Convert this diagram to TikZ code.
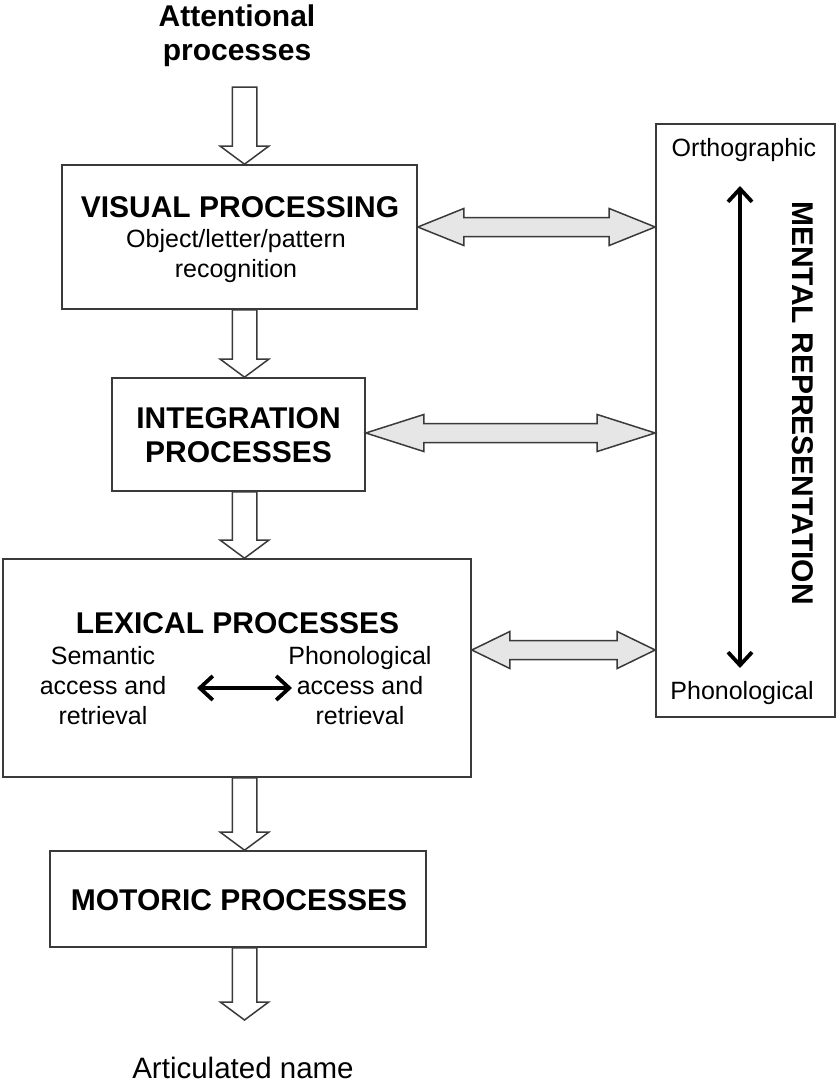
\documentclass[tikz,border=0pt]{standalone}
\usepackage{fontspec}
\setmainfont{Liberation Sans}
\usetikzlibrary{arrows.meta,calc}
\definecolor{edge}{HTML}{3A3A3A}
\definecolor{graybody}{HTML}{E6E6E6}
\tikzset{
  box/.style={draw=edge, line width=1.6pt, fill=white, rectangle, inner sep=0pt},
  head/.style={font=\fontsize{30}{34.5}\selectfont\bfseries, align=center, inner sep=0pt},
  body/.style={font=\fontsize{25}{30}\selectfont, align=center, inner sep=0pt},
  blockarr/.style={draw=edge, line width=1.5pt, fill=white, line join=miter},
  grayarr/.style={draw=edge, line width=1.5pt, fill=graybody, line join=miter},
  blackarr/.style={line width=3.8pt, black, {Straight Barb[length=13pt,width=24pt,line width=3.8pt]}-{Straight Barb[length=13pt,width=24pt,line width=3.8pt]}}
}
\newcommand{\blockdn}[2]{%
  \draw[blockarr] let \p1=(#1), \p2=(#2) in
    (\x1-12.25pt,\y1) -- (\x1-12.25pt,\y2+18pt) -- (\x1-24.25pt,\y2+18pt) --
    (\x1,\y2) -- (\x1+24.25pt,\y2+18pt) -- (\x1+12.25pt,\y2+18pt) --
    (\x1+12.25pt,\y1) -- cycle;}
\newcommand{\blockdbl}[3]{%
  \draw[grayarr] let \p1=(#1), \p2=(#2) in
    (\x1,\y1) -- (\x1+#3,\y1+18.5pt) -- (\x1+#3,\y1+9.5pt) --
    (\x2-#3,\y1+9.5pt) -- (\x2-#3,\y1+18.5pt) -- (\x2,\y1) --
    (\x2-#3,\y1-18.5pt) -- (\x2-#3,\y1-9.5pt) -- (\x1+#3,\y1-9.5pt) --
    (\x1+#3,\y1-18.5pt) -- cycle;}
\begin{document}
\begin{tikzpicture}[x=1pt,y=-1pt]
\useasboundingbox (0,0) rectangle (837,1084);
\fill[white] (0,0) rectangle (837,1084);

% boxes
\node[box, minimum width=355, minimum height=144] (vis) at (239.5,237) {};
\node[box, minimum width=253, minimum height=113] (int) at (238.5,434.5) {};
\node[box, minimum width=468, minimum height=218] (lex) at (237,668) {};
\node[box, minimum width=376, minimum height=96] (mot) at (238,899) {};
\node[box, minimum width=179, minimum height=593] (ment) at (745.5,420.5) {};

% texts
\node[head] (att) at (237,35.5) {Attentional\\processes};
\node[head] (vist) at (240,207) {VISUAL PROCESSING};
\node[body] (visb) at (236,256.5) {Object/letter/pattern\\recognition};
\node[head] (intt) at (238.5,435) {INTEGRATION\\PROCESSES};
\node[head] (lext) at (237.5,623) {LEXICAL PROCESSES};
\node[body] (sem) at (103,686) {Semantic\\access and\\retrieval};
\node[body] (pho) at (360,686) {Phonological\\access and\\retrieval};
\node[head] (mott) at (239,900) {MOTORIC PROCESSES};
\node[head, font=\fontsize{29.5}{34}\selectfont] (out) at (243,1068) {Articulated name};
\node[body] (orth) at (744,150) {Orthographic};
\node[body] (phon) at (742,693) {Phonological};
\node[head, rotate=-90] (mr) at (803,403) {MENTAL REPRESENTATION};

% coordinates
\coordinate (ax) at (244.5,0);
\coordinate (a0) at (244.5,87);
\coordinate (aend) at (244.5,1020);
\coordinate (h1) at (0,227);
\coordinate (h2) at (0,433);
\coordinate (h3) at (0,650);
\coordinate (mtop) at (740,186);
\coordinate (mbot) at (740,668);
\coordinate (lxa) at (197,688);
\coordinate (lxb) at (292,688);

% down block arrows
\blockdn{a0}{ax |- vis.north}
\blockdn{ax |- vis.south}{ax |- int.north}
\blockdn{ax |- int.south}{ax |- lex.north}
\blockdn{ax |- lex.south}{ax |- mot.north}
\blockdn{ax |- mot.south}{aend}

% gray double arrows
\blockdbl{vis.east |- h1}{ment.west |- h1}{46pt}
\blockdbl{int.east |- h2}{ment.west |- h2}{58pt}
\blockdbl{lex.east |- h3}{ment.west |- h3}{38pt}

% black arrows
\draw[blackarr] (mtop) -- (mbot);
\draw[blackarr] (lxa) -- (lxb);
\end{tikzpicture}
\end{document}
